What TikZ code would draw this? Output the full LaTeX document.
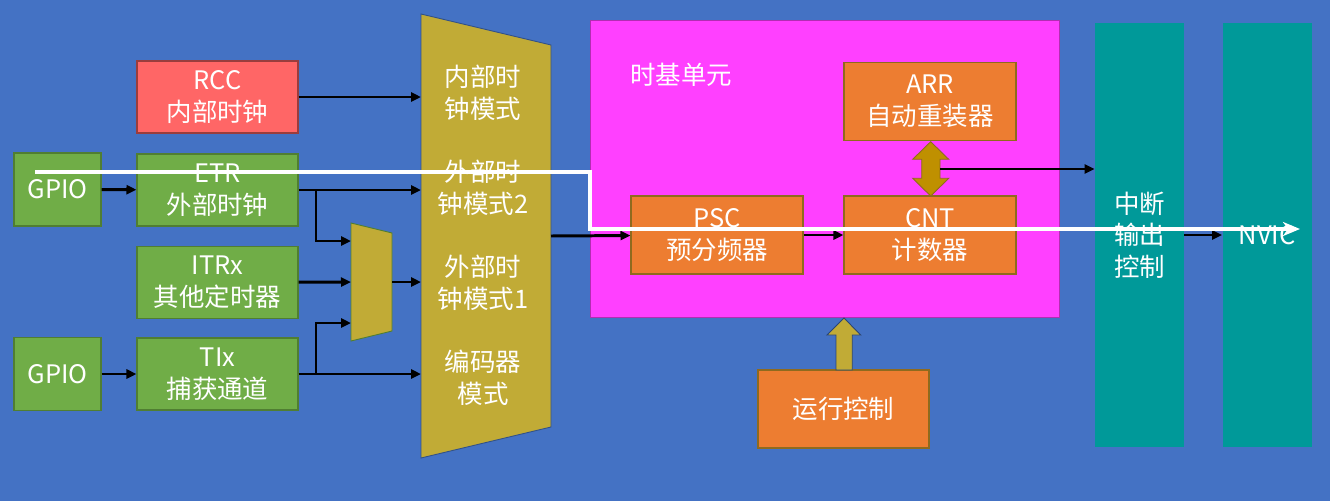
\documentclass[tikz,border=0pt]{standalone}
\usepackage{fontspec}
\setmainfont{Noto Sans CJK SC}
\usetikzlibrary{arrows.meta,positioning}

\definecolor{bgblue}{HTML}{4472C4}
\definecolor{gpgreen}{HTML}{70AD47}
\definecolor{gpgreenD}{HTML}{507E32}
\definecolor{rccred}{HTML}{FF6666}
\definecolor{modegold}{HTML}{C1AB36}
\definecolor{tbpink}{HTML}{FF40FF}
\definecolor{unitorange}{HTML}{ED7D31}
\definecolor{unitorangeD}{HTML}{8F6A1E}
\definecolor{outteal}{HTML}{009999}
\definecolor{dblgold}{HTML}{BF9000}

\tikzset{
  txt/.style={text=white, align=center, inner sep=0pt, font=\fontsize{14.5}{18}\selectfont},
  blk/.style={txt, rectangle, minimum width=#1},
  srcbox/.style={blk=3.22cm, minimum height=1.44cm, fill=gpgreen, draw=gpgreenD, line width=0.6pt},
  iobox/.style={blk=1.74cm, minimum height=1.46cm, fill=gpgreen, draw=gpgreenD, line width=0.6pt},
  unitbox/.style={blk=3.44cm, minimum height=1.56cm, fill=unitorange, draw=unitorangeD, line width=0.6pt},
  outbox/.style={blk=1.78cm, minimum height=8.48cm, fill=outteal},
  arr/.style={line width=1.7pt, -{Triangle[length=2mm,width=1.8mm]}},
  trace/.style={white, line width=2.3pt, -{Stealth[length=3.4mm,width=2.8mm,inset=1mm]}}
}

\begin{document}
\begin{tikzpicture}[x=0.02cm, y=-0.02cm] % one unit = one pixel of the 1330x501 sheet

    % Background
    \fill[bgblue] (0,0) rectangle (1330,501);
    \useasboundingbox (0,0) rectangle (1330,501);

    % Clock sources
    \node[srcbox, fill=rccred, draw=rccred!60!black] (rcc) at (217.5,97) {RCC\\内部时钟};
    \node[srcbox] (etr) at (217.5,190) {ETR\\外部时钟};
    \node[srcbox] (itr) at (217.5,282.5) {ITRx\\其他定时器};
    \node[srcbox] (tix) at (217.5,374) {TIx\\捕获通道};
    \node[iobox] (gpio1) at (57.5,189.5) {GPIO};
    \node[iobox] (gpio2) at (57.5,374) {GPIO};

    % Mode selector and small mux
    \draw[fill=modegold, draw=bgblue!70!black, line width=0.5pt] (421,14) -- (551,45) -- (551,427) -- (421,458) -- cycle;
    \draw[fill=modegold, draw=gpgreenD, line width=0.5pt] (351,223) -- (392,233) -- (392,331) -- (351,341) -- cycle;
    \node[txt] (mode1) at (483,93) {内部时\\钟模式};
    \node[txt] (mode2) at (483,188) {外部时\\钟模式2};
    \node[txt] (mode3) at (483,283) {外部时\\钟模式1};
    \node[txt] (mode4) at (483,378) {编码器\\模式};
    \coordinate (modeL) at (421,236);
    \coordinate (modeR) at (551,236);
    \coordinate (muxA) at (351,241);
    \coordinate (muxB) at (351,282);
    \coordinate (muxC) at (351,323);
    \coordinate (muxO) at (392,282);
    \coordinate (brX) at (316,0);

    % Time base unit
    \node[blk=9.38cm, minimum height=5.94cm, fill=tbpink, draw=tbpink!70!black, line width=0.4pt] (tb) at (824.5,168.5) {};
    \node[txt] (tbtitle) at (681,75) {时基单元};
    \node[unitbox] (arr) at (930,101.5) {ARR\\自动重装器};
    \node[unitbox] (psc) at (717,235) {PSC\\预分频器};
    \node[unitbox] (cnt) at (930,235) {CNT\\计数器};
    \node[unitbox, minimum width=3.42cm] (run) at (843.5,409) {运行控制};

    % Outputs
    \node[outbox] (irq) at (1139.5,235) {中断\\输出\\控制};
    \node[outbox] (nvic) at (1267,235) {NVIC};

    % Block arrows
    \draw[fill=dblgold, draw=unitorangeD, line width=0.5pt]
      (930.7,141.7) -- (948.7,159.3) -- (940,159.3) -- (940,178.3) -- (948.7,178.3) -- (930.7,196)
      -- (912.7,178.3) -- (921.7,178.3) -- (921.7,159.3) -- (912.7,159.3) -- cycle;
    \draw[fill=modegold, draw=bgblue!60!black, line width=0.5pt]
      (844,318) -- (860.7,335) -- (852.3,335) -- (852.3,370) -- (836,370) -- (836,335) -- (827,335) -- cycle;
    \coordinate (dblR) at (940,169);

    % Connectors
    \draw[arr] (rcc) -- (rcc -| modeL);
    \draw[arr] (gpio1) -- (etr);
    \draw[arr] (etr) -- (etr -| modeL);
    \draw[arr] (etr -| brX) |- (muxA);
    \draw[arr] (itr) -- (muxB);
    \draw[arr] (muxO) -- (muxO -| modeL);
    \draw[arr] (gpio2) -- (tix);
    \draw[arr] (tix) -- (tix -| modeL);
    \draw[arr] (tix -| brX) |- (muxC);
    \draw[arr] (modeR) -- (psc);
    \draw[arr] (psc) -- (cnt);
    \draw[arr] (dblR) -- (dblR -| irq.west);
    \draw[arr] (irq) -- (nvic);

    % Signal path
    \coordinate (wS) at (35,172);
    \coordinate (wE) at (1300,229);
    \draw[trace] (wS) -| (590,229) -- (wE);

\end{tikzpicture}
\end{document}
